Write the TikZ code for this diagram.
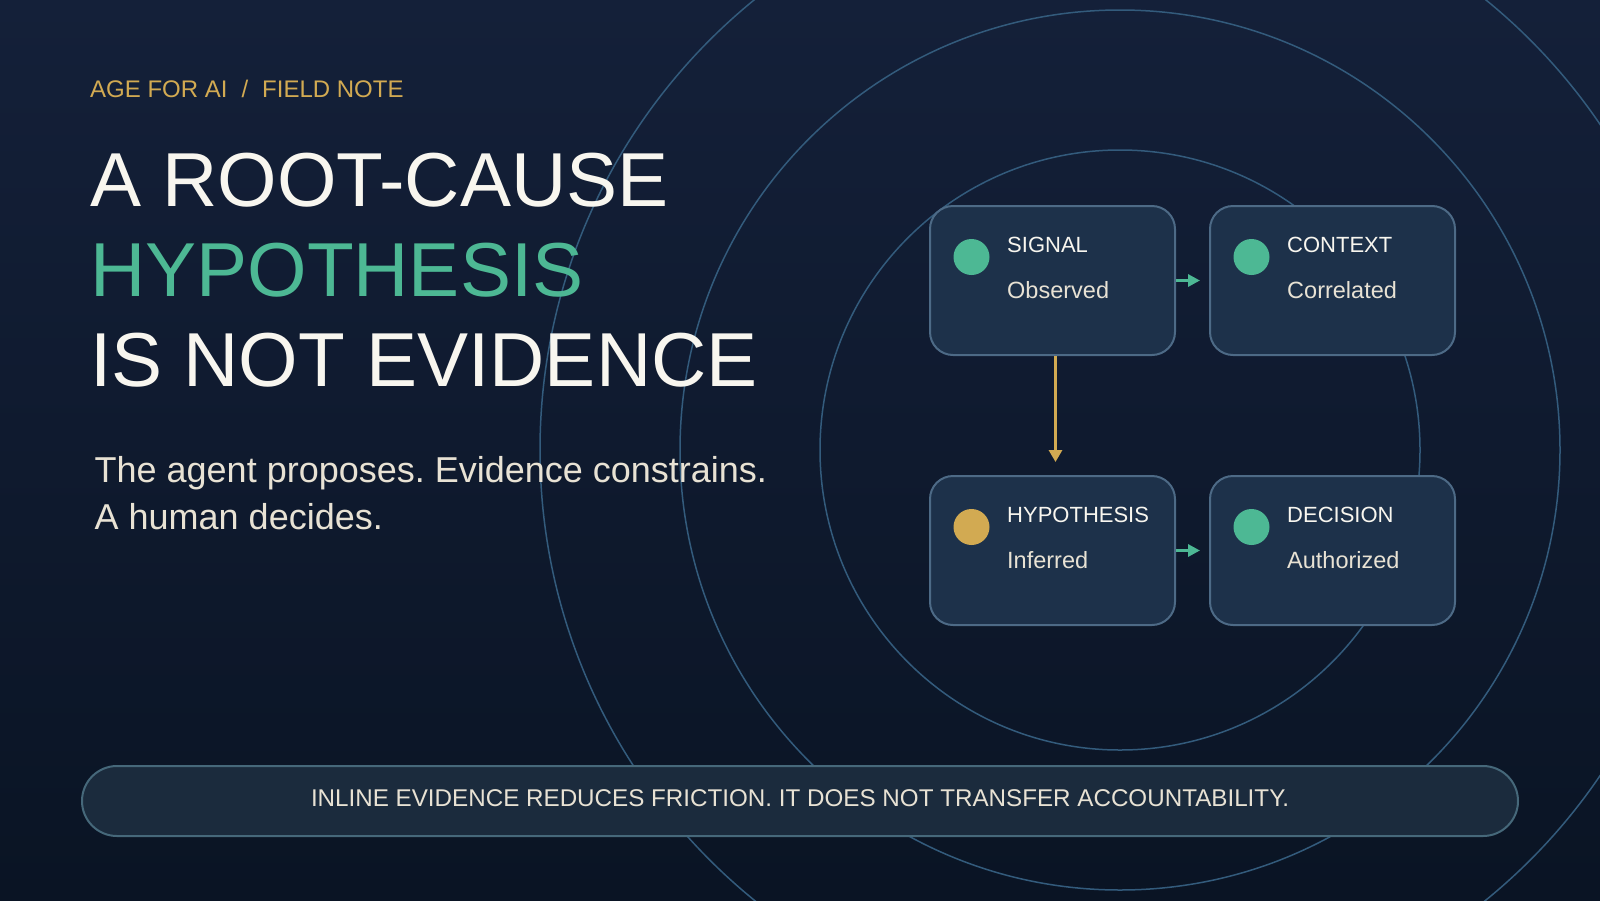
\documentclass[tikz,border=0pt]{standalone}
\usepackage{fontspec}
\setmainfont{Liberation Sans}
\usetikzlibrary{arrows.meta,calc}
\frenchspacing
\definecolor{bgtop}{HTML}{142039}
\definecolor{bgbot}{HTML}{0A1424}
\definecolor{ringc}{HTML}{335B7C}
\definecolor{boxfill}{HTML}{1D314A}
\definecolor{boxline}{HTML}{4D6A86}
\definecolor{pillfill}{HTML}{1B2B3D}
\definecolor{pillline}{HTML}{46687A}
\definecolor{accgreen}{HTML}{4DB894}
\definecolor{accgold}{HTML}{D2AA52}
\definecolor{txtwhite}{HTML}{F8F6EF}
\definecolor{txtcream}{HTML}{E8E2D4}
\tikzset{
  ring/.style={draw=ringc, line width=1.5pt},
  stagebox/.style={draw=boxline, fill=boxfill, line width=2pt, rounded corners=23pt,
    minimum width=245pt, minimum height=149pt, inner sep=0pt},
  dotmark/.style={circle, minimum size=36pt, inner sep=0pt},
  stagelab/.style={anchor=base west, inner sep=0pt, text=txtwhite, font=\fontsize{22}{26}\selectfont},
  stagesub/.style={anchor=base west, inner sep=0pt, text=txtcream, font=\fontsize{23.5}{28}\selectfont},
  garrow/.style={draw=accgreen, line width=3pt, -{Triangle[length=12pt,width=12pt]}},
  yarrow/.style={draw=accgold, line width=3pt, -{Triangle[length=12pt,width=13pt]}},
  titleline/.style={anchor=base west, inner sep=0pt, font=\fontsize{76.5}{90}\selectfont},
  subline/.style={anchor=base west, inner sep=0pt, text=txtcream, font=\fontsize{36}{47}\selectfont},
  pill/.style={draw=pillline, fill=pillfill, line width=2pt, rounded corners=35pt,
    minimum width=1436pt, minimum height=70pt, inner sep=0pt, text=txtcream,
    text height=11.4pt, text depth=0pt, font=\fontsize{24.2}{28}\selectfont}
}
\begin{document}
\begin{tikzpicture}[x=1pt,y=-1pt]
\useasboundingbox (0,0) rectangle (1600,900);
\shade[top color=bgtop, bottom color=bgbot] (0,0) rectangle (1600,900);
\begin{scope}
  \clip (0,0) rectangle (1600,900);
  \draw[ring] (1120,450) circle[radius=300pt];
  \draw[ring] (1120,450) circle[radius=440pt];
  \draw[ring] (1120,450) circle[radius=580pt];
\end{scope}

% header texts
\node[anchor=base west, inner sep=0pt, text=accgold, font=\fontsize{24}{28}\selectfont] (kicker) at (90,97.7)
  {AGE FOR AI\hspace{14pt}/\hspace{14pt}FIELD NOTE};
\node[titleline, text=txtwhite] (t1) at (90,206.7) {A ROOT-CAUSE};
\node[titleline, text=accgreen] (t2) at (90,296.7) {HYPOTHESIS};
\node[titleline, text=txtwhite] (t3) at (90,386.7) {IS NOT EVIDENCE};
\node[subline] (s1) at (94.5,482.7) {The agent proposes. Evidence constrains.};
\node[subline] (s2) at (94.5,529.3) {A human decides.};

% stage boxes
\node[stagebox] (sig) at (1052.5,280.5) {};
\node[stagebox] (ctx) at (1332.5,280.5) {};
\node[stagebox] (hyp) at (1052.5,550.5) {};
\node[stagebox] (dec) at (1332.5,550.5) {};

\node[dotmark, fill=accgreen] (sigdot) at ($(sig.north west)+(42.5,52)$) {};
\node[dotmark, fill=accgreen] (ctxdot) at ($(ctx.north west)+(42.5,52)$) {};
\node[dotmark, fill=accgold]  (hypdot) at ($(hyp.north west)+(42.5,52)$) {};
\node[dotmark, fill=accgreen] (decdot) at ($(dec.north west)+(42.5,52)$) {};

\node[stagelab] (siglab) at ($(sig.north west)+(78,47.3)$) {SIGNAL};
\node[stagesub] (sigsub) at ($(sig.north west)+(78,93)$) {Observed};
\node[stagelab] (ctxlab) at ($(ctx.north west)+(78,47.3)$) {CONTEXT};
\node[stagesub] (ctxsub) at ($(ctx.north west)+(78,93)$) {Correlated};
\node[stagelab] (hyplab) at ($(hyp.north west)+(78,47.3)$) {HYPOTHESIS};
\node[stagesub] (hypsub) at ($(hyp.north west)+(78,93)$) {Inferred};
\node[stagelab] (declab) at ($(dec.north west)+(78,47.3)$) {DECISION};
\node[stagesub] (decsub) at ($(dec.north west)+(78,93)$) {Authorized};

% connectors
\draw[garrow, shorten >=9pt] (sig) -- (ctx);
\draw[garrow, shorten >=9pt] (hyp) -- (dec);
\draw[yarrow, shorten >=13pt] ([xshift=3pt]sig.south) -- ([xshift=3pt]hyp.north);

% bottom note
\node[pill] (note) at (800,801) {INLINE EVIDENCE REDUCES FRICTION. IT DOES NOT TRANSFER ACCOUNTABILITY.};
\end{tikzpicture}
\end{document}
